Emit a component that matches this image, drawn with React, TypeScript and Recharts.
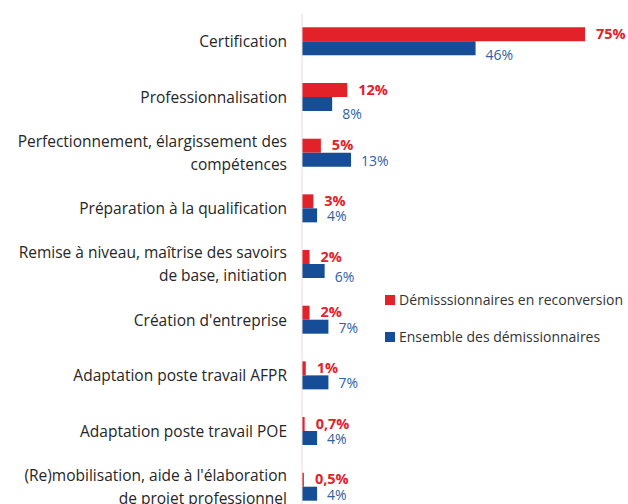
import { Bar, BarChart, LabelList, XAxis, YAxis } from "recharts";

const categories = [
  "Certification",
  "Professionnalisation",
  "Perfectionnement, élargissement des\ncompétences",
  "Préparation à la qualification",
  "Remise à niveau, maîtrise des savoirs\nde base, initiation",
  "Création d'entreprise",
  "Adaptation poste travail AFPR",
  "Adaptation poste travail POE",
  "(Re)mobilisation, aide à l'élaboration\nde projet professionnel",
];
const reconversion = [75, 12, 5, 3, 2, 2, 1, 0.7, 0.5];
const ensemble = [46, 8, 13, 4, 6, 7, 7, 4, 4];
const seriesNames = ["Démisssionnaires en reconversion", "Ensemble des démissionnaires"];

// vertical nudge of the blue value labels (they were moved by hand in the original)
const blueLabelNudge = [7, 10, 1, 1, 6, 1, 1, 1, 1];

const RED = "#e32129";
const BLUE = "#154e96";
const FONT = "'Open Sans', sans-serif";

const data = categories.map((cat, i) => ({
  cat,
  reconv: reconversion[i],
  ens: ensemble[i],
}));

const pct = (v: number) => `${String(v).replace(".", ",")}%`;

function CategoryTick({ x, y, payload }: any) {
  const lines = String(payload.value).split("\n");
  const lh = 23;
  const start = y - ((lines.length - 1) * lh) / 2;
  return (
    <text x={x} y={start} textAnchor="end" fontSize={15.5} fill="#262626" fontFamily={FONT}>
      {lines.map((l, i) => (
        <tspan key={i} x={x} y={start + i * lh} dy="0.35em">
          {l}
        </tspan>
      ))}
    </text>
  );
}

function RedLabel({ x, y, width, height, value }: any) {
  return (
    <text
      x={x + width + 11}
      y={y + height / 2}
      dy="0.33em"
      fontSize={14.5}
      fontWeight="bold"
      fill={RED}
      fontFamily={FONT}
    >
      {pct(value)}
    </text>
  );
}

function BlueLabel({ x, y, width, height, value, index }: any) {
  return (
    <text
      x={x + width + 10}
      y={y + height / 2 + (blueLabelNudge[index] ?? 0)}
      dy="0.35em"
      fontSize={14}
      fill="#2f5fa5"
      fontFamily={FONT}
    >
      {pct(value)}
    </text>
  );
}

function LegendBox() {
  const colors = [RED, BLUE];
  return (
    <div style={{ position: "absolute", left: 385, top: 281, fontFamily: FONT, fontSize: 14, color: "#333" }}>
      {seriesNames.map((n, i) => (
        <div key={n} style={{ display: "flex", alignItems: "center", height: 37, whiteSpace: "nowrap" }}>
          <span style={{ width: 10, height: 10, background: colors[i], marginRight: 4 }} />
          {n}
        </div>
      ))}
    </div>
  );
}

export default function App() {
  return (
    <div style={{ position: "absolute", left: 0, top: 0, width: 628, height: 504, overflow: "hidden", background: "#fff" }}>
      <BarChart
        width={628}
        height={520}
        data={data}
        layout="vertical"
        barGap={0}
        barCategoryGap="24%"
        margin={{ top: 14, right: 43, left: 0, bottom: 5 }}
      >
        <XAxis type="number" domain={[0, 75]} hide />
        <YAxis
          type="category"
          dataKey="cat"
          width={302}
          axisLine={{ stroke: "#e6d9dc" }}
          tickLine={false}
          tickSize={13}
          tick={<CategoryTick />}
          interval={0}
        />
        <Bar dataKey="reconv" fill={RED} isAnimationActive={false}>
          <LabelList dataKey="reconv" content={<RedLabel />} />
        </Bar>
        <Bar dataKey="ens" fill={BLUE} isAnimationActive={false}>
          <LabelList dataKey="ens" content={<BlueLabel />} />
        </Bar>
      </BarChart>
      <LegendBox />
    </div>
  );
}
